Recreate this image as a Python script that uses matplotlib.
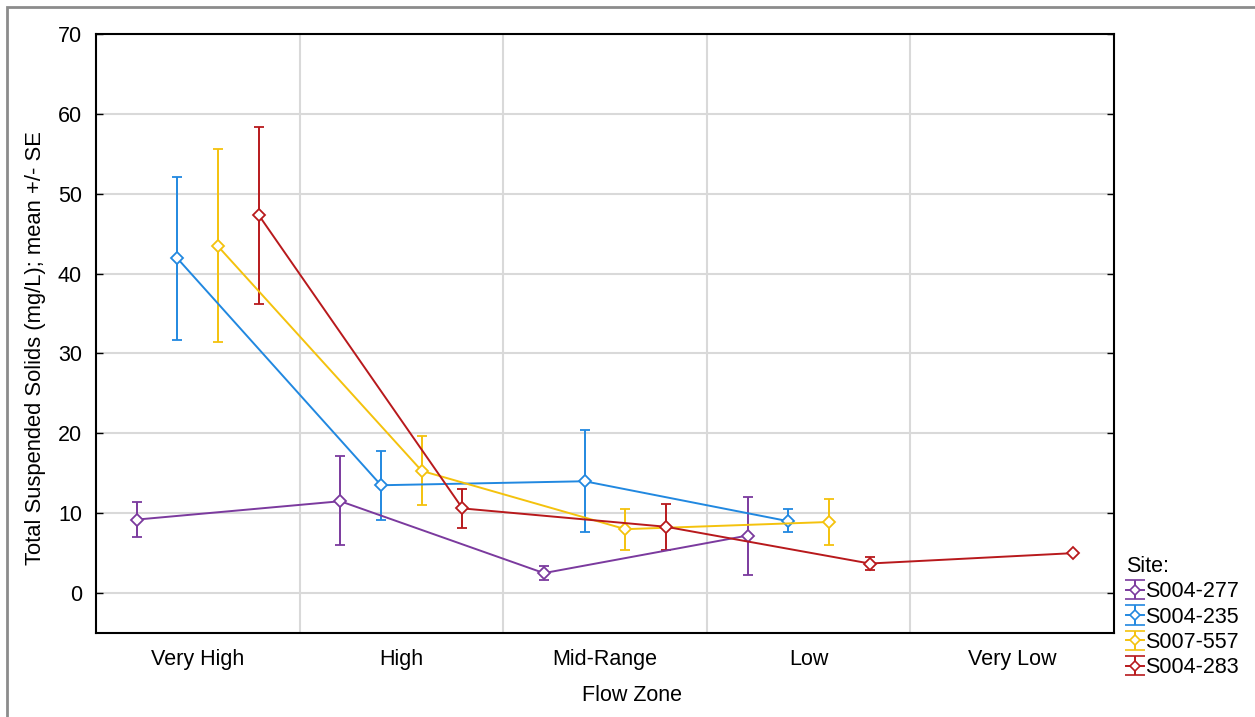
import numpy as np
import matplotlib
matplotlib.use("Agg")
import matplotlib.pyplot as plt
from matplotlib.patches import Rectangle
from matplotlib.legend_handler import HandlerErrorbar

plt.rcParams['font.family'] = ['Liberation Sans', 'DejaVu Sans']

categories = ["Very High", "High", "Mid-Range", "Low", "Very Low"]
sites = ["S004-277", "S004-235", "S007-557", "S004-283"]

mean_277 = [9.2, 11.5, 2.5, 7.2, np.nan]
upper_277 = [11.4, 17.2, 3.4, 12.0, np.nan]
lower_277 = [7.0, 6.0, 1.6, 2.3, np.nan]

mean_235 = [41.9, 13.5, 14.0, 9.0, np.nan]
upper_235 = [52.1, 17.8, 20.4, 10.5, np.nan]
lower_235 = [31.7, 9.2, 7.6, 7.6, np.nan]

mean_557 = [43.4, 15.3, 8.0, 8.9, np.nan]
upper_557 = [55.6, 19.7, 10.5, 11.8, np.nan]
lower_557 = [31.4, 11.0, 5.4, 6.0, np.nan]

mean_283 = [47.3, 10.6, 8.3, 3.7, 5.0]
upper_283 = [58.4, 13.0, 11.2, 4.5, 5.0]
lower_283 = [36.2, 8.1, 5.4, 2.9, 5.0]

means = [mean_277, mean_235, mean_557, mean_283]
uppers = [upper_277, upper_235, upper_557, upper_283]
lowers = [lower_277, lower_235, lower_557, lower_283]
colors = ["#7B3A9E", "#2188E0", "#F4C20D", "#B8191C"]
offsets = [-0.3, -0.1, 0.1, 0.3]

FS = 15.5

fig = plt.figure(figsize=(12.55, 7.17), dpi=100)
ax = fig.add_axes([96/1255, 1-633/717, (1114-96)/1255, (633-34)/717])

x = np.arange(len(categories))
handles = []
for m, u, l, c, off, name in zip(means, uppers, lowers, colors, offsets, sites):
    m = np.array(m, dtype=float)
    u = np.array(u, dtype=float)
    l = np.array(l, dtype=float)
    valid = ~np.isnan(m)
    xs = x[valid] + off
    yerr = np.vstack([m[valid] - l[valid], u[valid] - m[valid]])
    ax.errorbar(xs, m[valid], yerr=yerr, color=c, lw=1.4, elinewidth=1.4,
                capsize=3.3, capthick=1.4, marker='D', ms=6.5,
                mfc='white', mec=c, mew=1.3, label=name, zorder=3)
    # proxy artist for legend (larger caps, smaller marker)
    h = ax.errorbar([np.nan], [np.nan], yerr=[[np.nan], [np.nan]], color=c,
                    lw=1.4, elinewidth=1.4, capsize=7, capthick=1.6,
                    marker='D', ms=5, mfc='white', mec=c, mew=1.2)
    handles.append(h)

ax.set_xlim(-0.5, 4.5)
ax.set_ylim(-5, 70)
ax.set_xticks(x)
ax.set_xticklabels(categories, fontsize=FS)
ax.set_yticks(np.arange(0, 71, 10))
ax.tick_params(axis='y', direction='in', length=5, width=1, right=True,
               labelsize=FS, pad=10, colors='black')
ax.tick_params(axis='x', length=0, labelsize=FS, pad=11.5)
ax.set_xticks(np.arange(0.5, 4.0, 1.0), minor=True)
ax.tick_params(axis='x', which='minor', length=0)
ax.grid(True, axis='y', which='major', color='#d9d9d9', lw=1.5, zorder=0)
ax.grid(True, axis='x', which='minor', color='#d9d9d9', lw=1.5, zorder=0)
ax.set_axisbelow(True)
for s in ax.spines.values():
    s.set_linewidth(1.5)
    s.set_color('black')

ax.set_xlabel("Flow Zone", fontsize=FS)
ax.xaxis.set_label_coords((632-96)/1018, -(685-633)/599)
ax.set_ylabel("Total Suspended Solids (mg/L); mean +/- SE", fontsize=15.8)
ax.yaxis.set_label_coords((46-96)/1018, (633-348.5)/599)

leg = fig.legend(handles=handles, labels=sites, title="Site:", loc='upper left',
                 bbox_to_anchor=(1126/1255, 1-556/717), frameon=False,
                 fontsize=FS, title_fontsize=FS, handlelength=0.85,
                 handletextpad=0.05, labelspacing=0.2, borderpad=0,
                 borderaxespad=0, alignment='left',
                 handler_map={type(handles[0]): HandlerErrorbar(yerr_size=0.45)})

fig.patches.append(Rectangle((7/1255, -0.1), 1.2, 1-7/717+0.1,
                             transform=fig.transFigure, fill=False,
                             edgecolor='#8c8c8c', lw=2.0))

fig.savefig("out.png", dpi=100)
